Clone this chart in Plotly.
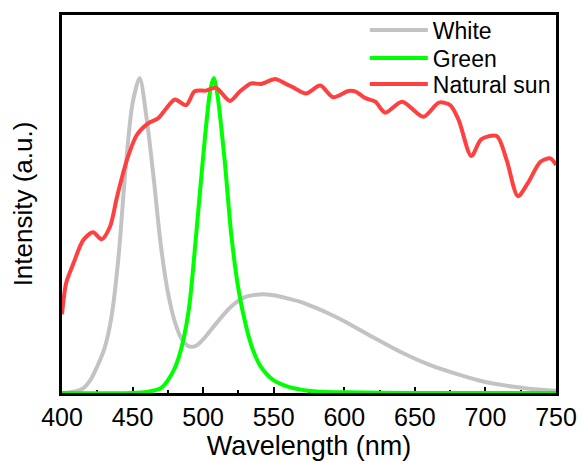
import plotly.graph_objects as go

# ---- data ----
white_wl = [400, 405, 410, 415, 420, 425, 430, 435, 440, 445, 450, 455, 460, 465, 470, 475,
            480, 485, 490, 495, 500, 510, 520, 530, 540, 550, 560, 570, 580, 590, 600, 620,
            640, 660, 680, 700, 720, 740, 750]
white_val = [0.0, 0.002, 0.006, 0.015, 0.04, 0.085, 0.14, 0.24, 0.43, 0.71, 0.92, 1.0, 0.87, 0.68,
             0.47, 0.32, 0.225, 0.17, 0.148, 0.15, 0.17, 0.225, 0.275, 0.305, 0.313, 0.31, 0.30,
             0.288, 0.27, 0.25, 0.228, 0.178, 0.13, 0.09, 0.06, 0.035, 0.02, 0.01, 0.007]

green_wl = [400, 450, 460, 465, 470, 475, 480, 485, 490, 495, 500, 505, 507.5, 510, 515, 520,
            525, 530, 535, 540, 545, 550, 560, 570, 580, 600, 650, 700, 750]
green_val = [0.0, 0.0, 0.003, 0.008, 0.015, 0.04, 0.08, 0.15, 0.27, 0.5, 0.75, 0.96, 1.0, 0.95,
             0.75, 0.5, 0.33, 0.22, 0.14, 0.09, 0.06, 0.04, 0.02, 0.01, 0.005, 0.002, 0.0, 0.0, 0.0]

sun_wl = [400, 403, 408, 415, 422, 428, 434, 439, 446, 453, 461, 468, 474, 480, 488, 494, 502,
          509, 519, 526, 534, 541, 551, 558, 565, 573, 583, 592, 603, 608, 615, 622, 629, 641,
          656, 667, 675, 681, 690, 697, 708, 715, 723, 730, 739, 746, 750]
sun_val = [0.25, 0.35, 0.41, 0.485, 0.51, 0.488, 0.528, 0.623, 0.74, 0.819, 0.856, 0.872, 0.904,
           0.932, 0.914, 0.958, 0.96, 0.969, 0.927, 0.957, 0.983, 0.981, 0.997, 0.983, 0.967,
           0.951, 0.976, 0.939, 0.959, 0.957, 0.936, 0.925, 0.89, 0.925, 0.877, 0.922, 0.914,
           0.867, 0.752, 0.805, 0.816, 0.74, 0.625, 0.666, 0.734, 0.745, 0.724]

x_ticks = [400, 450, 500, 550, 600, 650, 700, 750]

FONT = "Liberation Sans, Arial, sans-serif"

fig = go.Figure()
fig.add_trace(go.Scatter(x=white_wl, y=white_val, mode="lines", name="White", legend="legend",
                         line=dict(color="#c3c3c3", width=4, shape="spline", smoothing=0.8)))
fig.add_trace(go.Scatter(x=green_wl, y=green_val, mode="lines", name="Green", legend="legend2",
                         line=dict(color="#00ff00", width=4, shape="spline", smoothing=0.8)))
fig.add_trace(go.Scatter(x=sun_wl, y=sun_val, mode="lines", name="Natural sun", legend="legend3",
                         line=dict(color="#ff4040", width=4, shape="spline", smoothing=0.8)))


def leg(ypos):
    return dict(x=0.613, y=ypos, xanchor="left", yanchor="middle",
                bgcolor="rgba(0,0,0,0)", borderwidth=0,
                font=dict(family=FONT, size=23, color="black"),
                itemwidth=58, tracegroupgap=0)


fig.update_layout(
    width=582, height=461,
    margin=dict(l=62, r=26, t=15, b=68, autoexpand=False),
    paper_bgcolor="white", plot_bgcolor="white",
    font=dict(family=FONT, color="black"),
    showlegend=True,
    legend=leg(0.960),
    legend2=leg(0.886),
    legend3=leg(0.817),
    xaxis=dict(range=[400, 750], tickvals=x_ticks, ticktext=[str(v) for v in x_ticks],
               ticks="inside", ticklen=6, tickwidth=2, tickcolor="black",
               minor=dict(ticks="inside", ticklen=3, tickwidth=2, dtick=25, tick0=400,
                          tickcolor="black"),
               showline=True, linecolor="black", linewidth=2.5, mirror=True,
               showgrid=False, zeroline=False, layer="below traces", automargin=False,
               tickfont=dict(family=FONT, size=25, color="black"),
               title=dict(text="Wavelength (nm)", font=dict(family=FONT, size=27, color="black"),
                          standoff=0)),
    yaxis=dict(range=[0, 1.2], showticklabels=False, ticks="",
               showline=True, linecolor="black", linewidth=2.5, mirror=True,
               showgrid=False, zeroline=False, layer="below traces", automargin=False,
               title=dict(text="Intensity (a.u.)", font=dict(family=FONT, size=26, color="black"),
                          standoff=20)),
)

fig.write_html("out.html")
